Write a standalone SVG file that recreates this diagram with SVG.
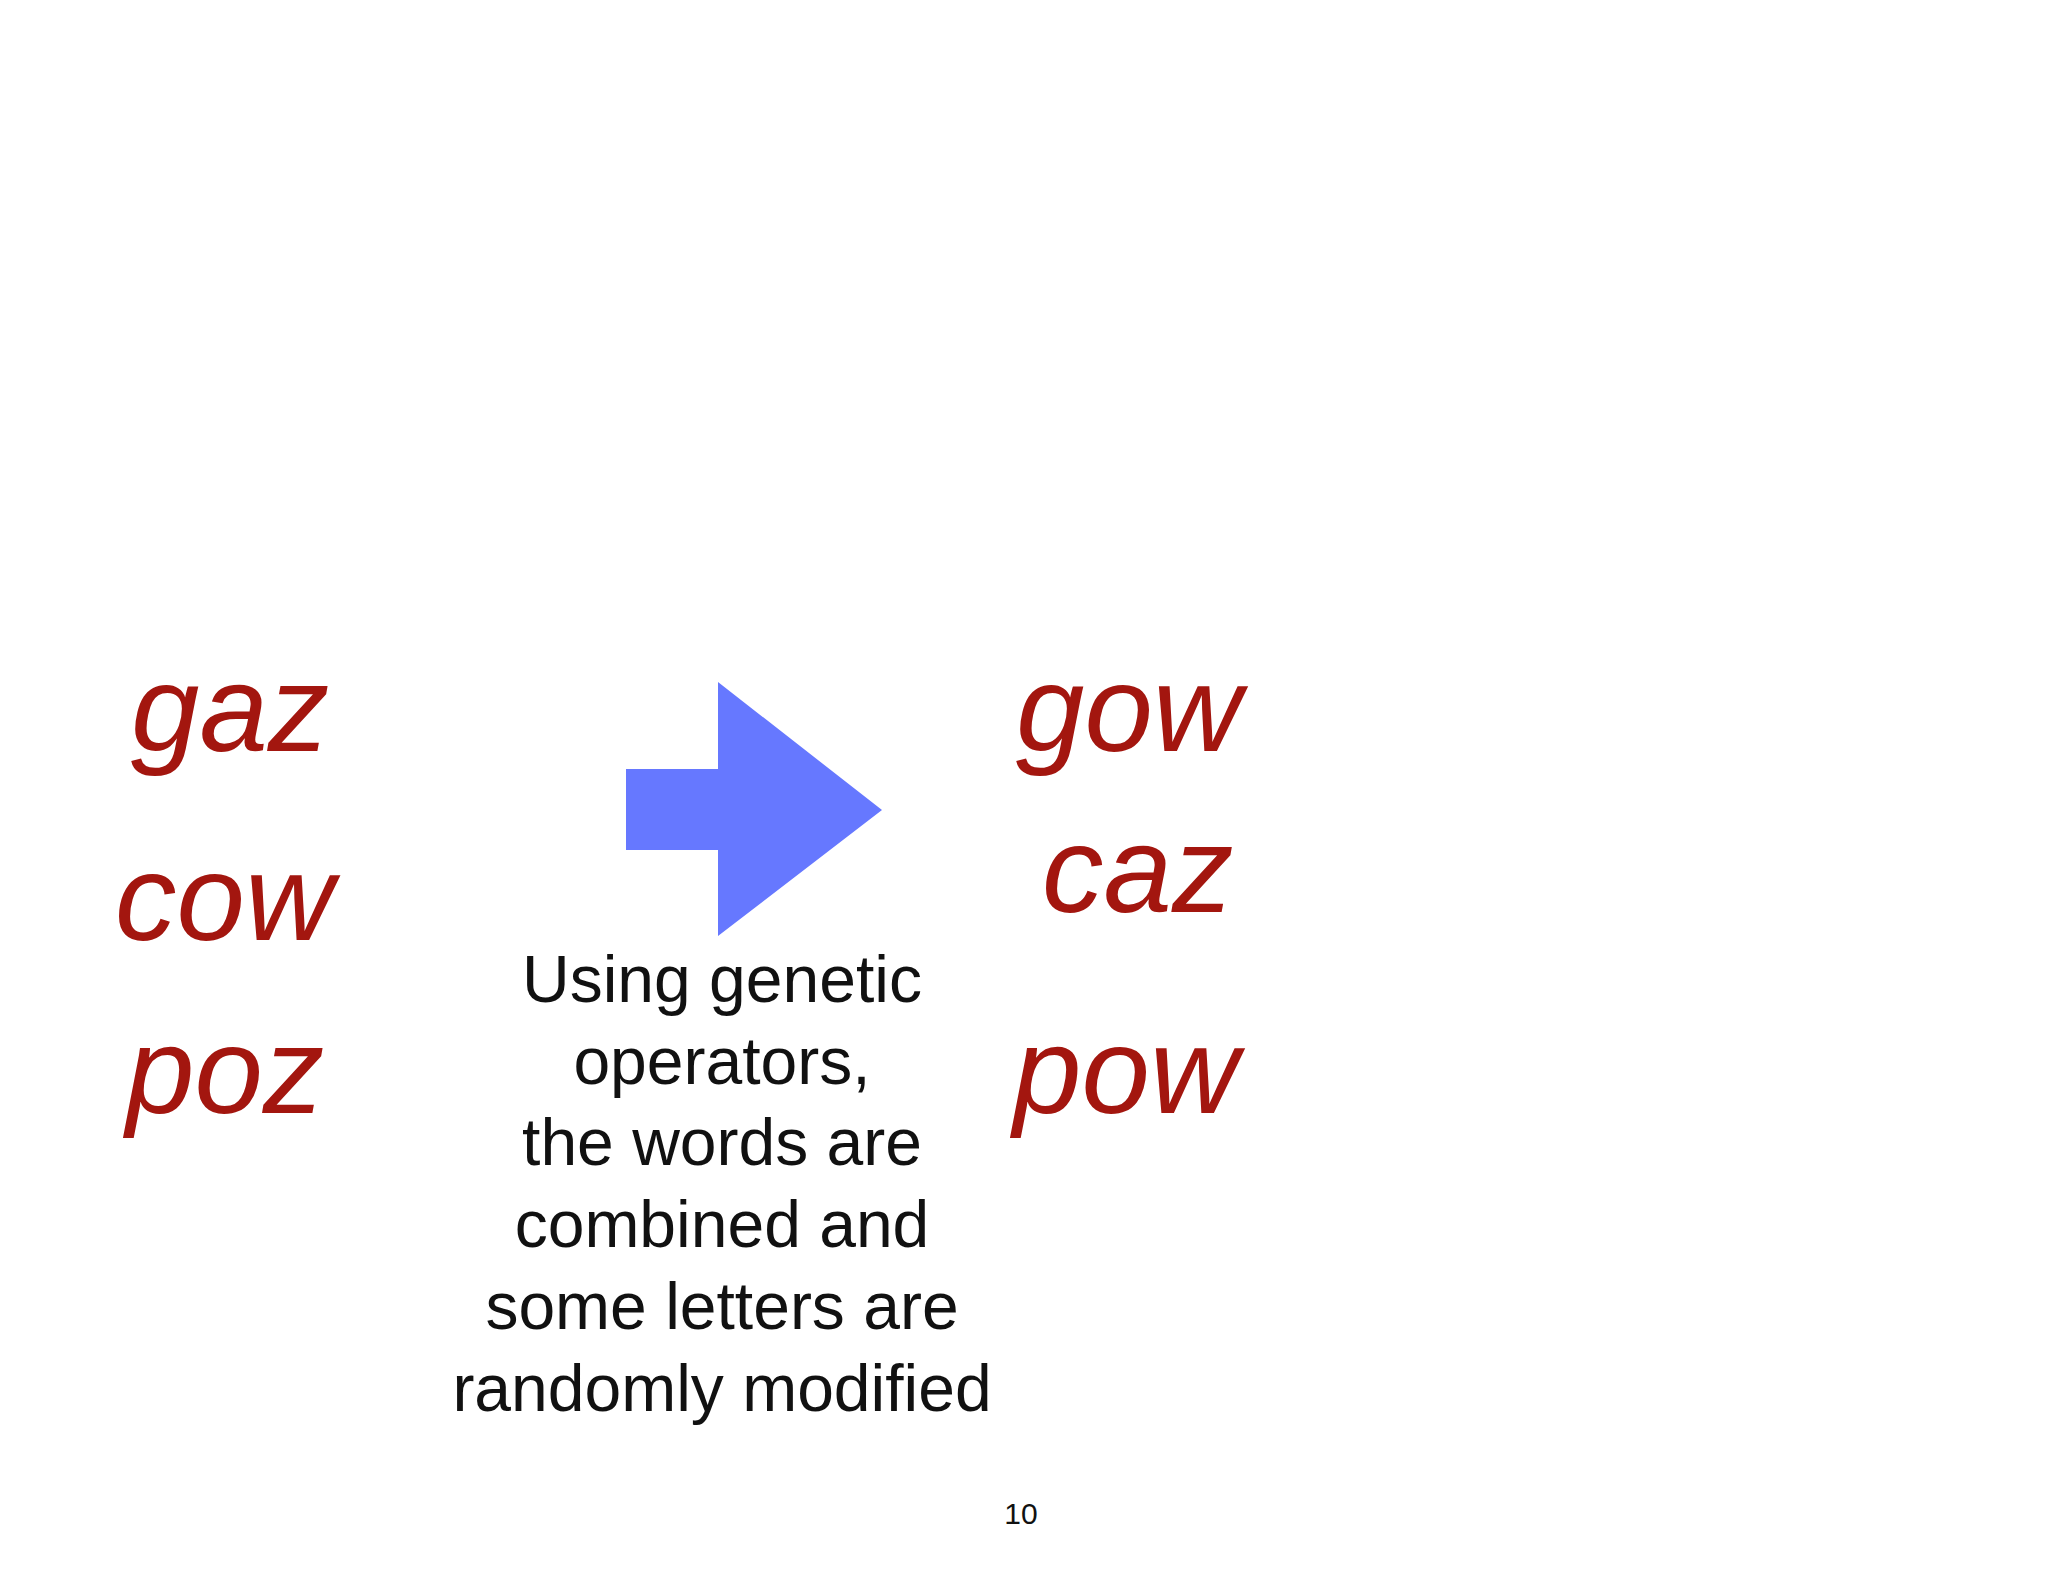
<svg xmlns="http://www.w3.org/2000/svg" width="2048" height="1582" viewBox="0 0 2048 1582">
<style>
.w{font-family:"Liberation Sans",Arial,sans-serif;font-style:italic;font-size:123px;fill:#A3160F}
.t{font-family:"Liberation Sans",Arial,sans-serif;font-size:66px;fill:#111;text-anchor:middle}
</style>
<rect width="2048" height="1582" fill="#fff"/>
<g id="left">
<text class="w" x="131" y="751">gaz</text>
<text class="w" x="115" y="940">cow</text>
<text class="w" x="126" y="1113">poz</text>
</g>
<g id="right">
<text class="w" x="1016" y="751">gow</text>
<text class="w" x="1042" y="912">caz</text>
<text class="w" x="1013" y="1113">pow</text>
</g>
<g id="arrow">
<polygon points="626,769 718,769 718,682 882,810 718,936 718,850 626,850" fill="#6678FF"/>
</g>
<g id="caption">
<text class="t" x="722" y="1002">Using genetic</text>
<text class="t" x="722" y="1084">operators,</text>
<text class="t" x="722" y="1165">the words are</text>
<text class="t" x="722" y="1247">combined and</text>
<text class="t" x="722" y="1329">some letters are</text>
<text class="t" x="722" y="1411">randomly modified</text>
</g>
<text x="1021" y="1524" font-family="Liberation Sans,sans-serif" font-size="30" fill="#111" text-anchor="middle">10</text>
</svg>
